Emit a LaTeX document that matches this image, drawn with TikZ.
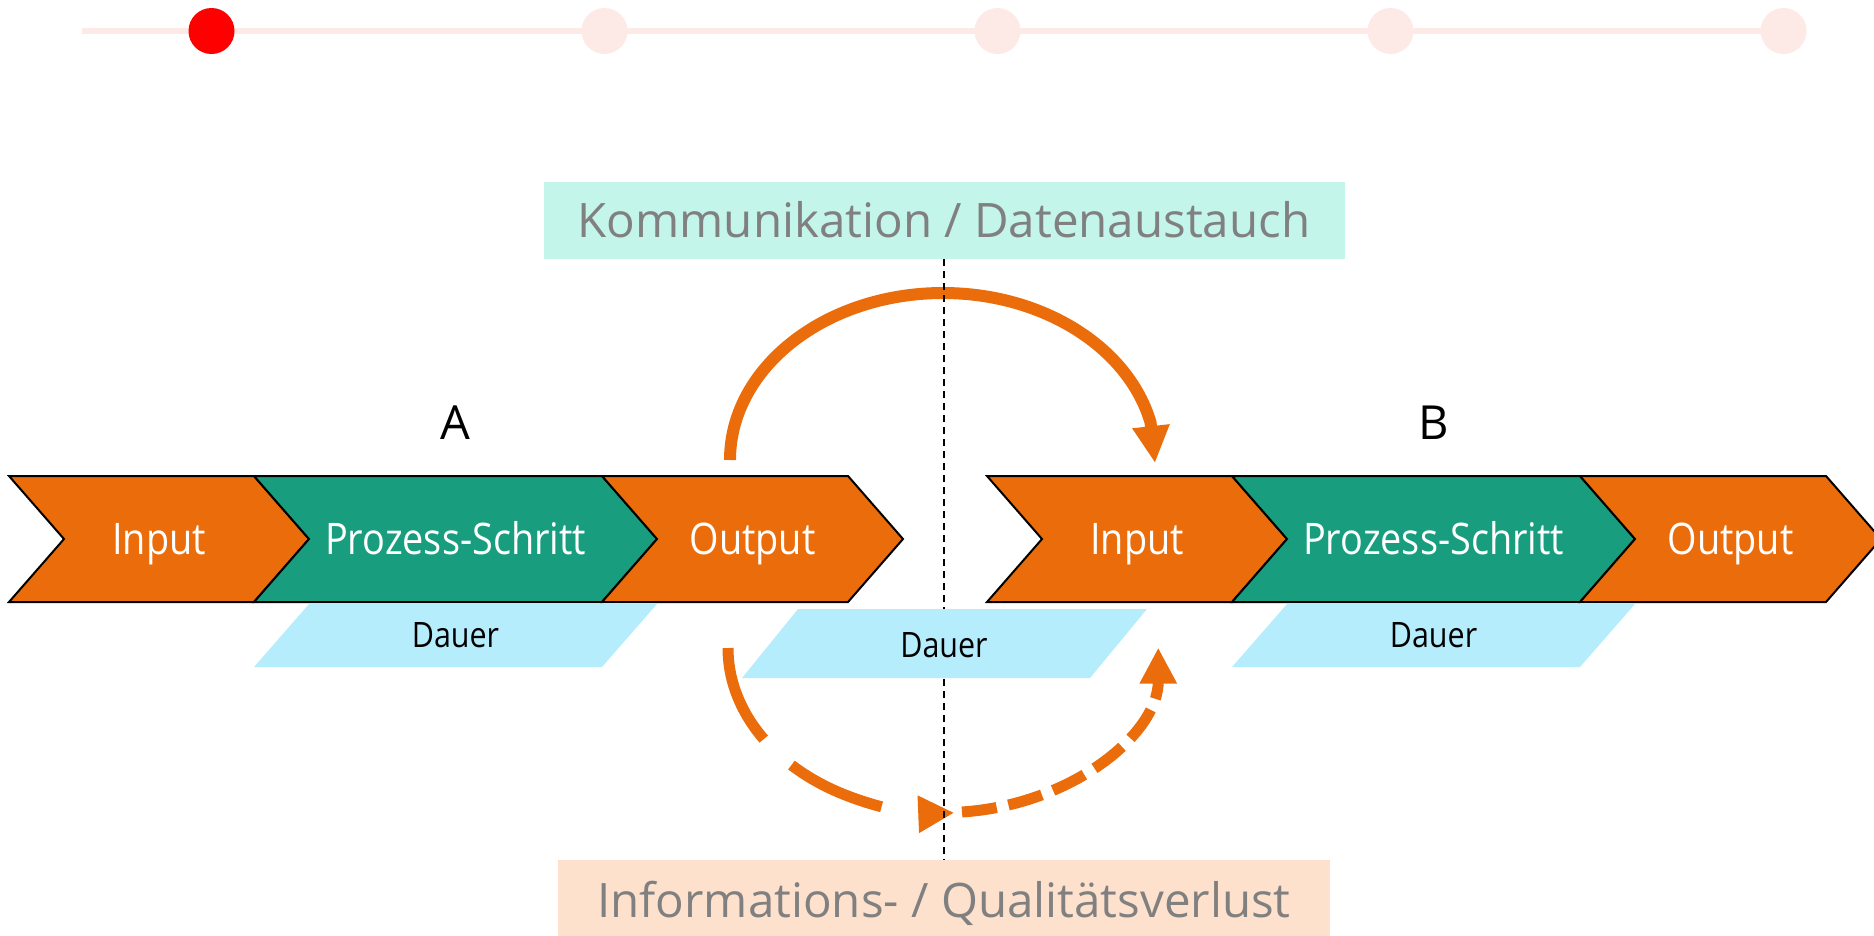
\documentclass[tikz,border=0pt]{standalone}
\usepackage{fontspec}
\setmainfont{Open Sans}
\newfontfamily\chevfont[FakeStretch=0.87]{Open Sans}
\usepackage{tikz}
\usetikzlibrary{arrows.meta,positioning}

\definecolor{procorange}{RGB}{235,108,10}
\definecolor{procgreen}{RGB}{24,158,126}
\definecolor{dauerblue}{RGB}{181,237,253}
\definecolor{kommmint}{RGB}{195,245,234}
\definecolor{verlustpeach}{RGB}{253,225,205}
\definecolor{labelgray}{RGB}{128,128,128}
\definecolor{stepred}{RGB}{255,0,0}
\definecolor{steppale}{RGB}{253,233,230}

\begin{document}
\begin{tikzpicture}[x=1pt,y=1pt,
  chev/.style={draw=black,line width=2pt,line join=miter},
  chevtext/.style={text=white,inner sep=0pt,text height=31pt,text depth=0pt,
    font=\chevfont\fontsize{43.5}{44}\selectfont},
  dauertext/.style={inner sep=0pt,text height=25pt,text depth=0pt,
    font=\chevfont\fontsize{35}{36}\selectfont},
  infobox/.style={text=labelgray,inner sep=0pt,text height=34pt,text depth=0pt,
    font=\fontsize{47.5}{48}\selectfont},
  rowlabel/.style={inner sep=0pt,text height=34pt,text depth=0pt,
    font=\fontsize{47}{48}\selectfont},
  kommarrow/.style={procorange,line width=12pt,-{Triangle[length=37pt,width=35pt]}},
  verlustarrow/.style={procorange,line width=11pt,-{Triangle[length=36pt,width=35pt]}}]
  \useasboundingbox (0,0) rectangle (1874,-935);

  \draw[steppale,line width=5.5pt] (82,-31) -- (1784,-31);
  \foreach \i in {0,...,4}
    \fill[steppale] (211.5+393*\i,-31) circle (23);
  \fill[stepred] (211.5,-31) circle (23);

  \foreach \dx/\r in {0/A,978/B}{
    \begin{scope}[xshift=\dx pt]
      \foreach \L/\W/\c/\n/\t in {9/245/procorange/in/Input,
          254/348/procgreen/proz/Prozess-Schritt,
          602/246/procorange/out/Output}{
        \filldraw[chev,fill=\c] (\L,-476) -- ++(\W,0) -- ++(55,-63)
          -- ++(-55,-63) -- ++(-\W,0) -- ++(55,63) -- cycle;
        \node[chevtext] (\r_\n) at ({\L+(\W+55)/2},-539) {\t};
      }
      \fill[dauerblue] (309,-604) -- (657,-604) -- (602,-667) -- (254,-667) -- cycle;
      \node[dauertext] (\r_dauer) at (455.5,-635) {Dauer};
    \end{scope}
  }
  \node[rowlabel,above=83.5pt of A_proz] (A_label) {A};
  \node[rowlabel,above=83.5pt of B_proz] (B_label) {B};

  \coordinate (A_out_top) at (730,-460);
  \coordinate (B_in_top) at (1155,-463);
  \coordinate (A_out_bot) at (728,-648);
  \coordinate (mid_bot) at (962,-812);
  \draw[kommarrow] (A_out_top)
    arc[start angle=180,end angle=13,x radius=213,y radius=167] -- (B_in_top);
  \draw[verlustarrow,dash pattern=on 100pt off 38pt] (A_out_bot)
    arc[start angle=180,end angle=273,x radius=215,y radius=165];
  \draw[verlustarrow,dash pattern=on 35pt off 12pt] (mid_bot)
    arc[start angle=275,end angle=360,x radius=215,y radius=165];

  \node[infobox,fill=kommmint,minimum width=801pt,minimum height=77pt]
    (komm) at (944,-220.5) {Kommunikation / Datenaustauch};
  \node[infobox,fill=verlustpeach,minimum width=772pt,minimum height=80pt]
    (verlust) at (944,-900) {Informations- / Qualitätsverlust};
  \draw[line width=2.2pt,dash pattern=on 7pt off 5pt] (komm) -- (verlust);

  \fill[dauerblue] (798,-609) -- (1147,-609) -- (1090,-678) -- (742,-678) -- cycle;
  \node[dauertext] (mid_dauer) at (944,-644.5) {Dauer};
\end{tikzpicture}
\end{document}
